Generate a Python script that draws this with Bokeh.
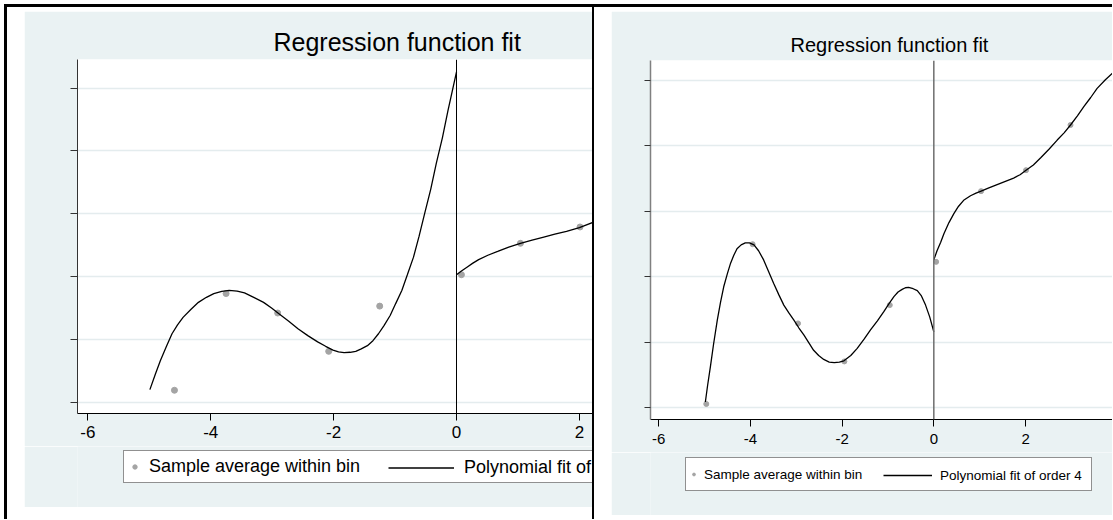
from bokeh.plotting import figure
from bokeh.models import Range1d, FixedTicker, Span, Spacer, Legend, LegendItem
from bokeh.layouts import row, column
from bokeh.embed import file_html
from bokeh.resources import INLINE

# ---------------- data ----------------
x_ticks = [-6, -4, -2, 0, 2, 4]
x_tick_labels = ["-6", "-4", "-2", "0", "2", "4"]
y_ticks = [0, 1, 2, 3, 4, 5]
title_text = "Regression function fit"
label_bins = "Sample average within bin"
label_fit = "Polynomial fit of order 4"

# left panel
left_bin_x = [-4.59, -3.75, -2.91, -2.08, -1.25, 0.08, 1.04, 2.01]
left_bin_y = [0.19, 1.73, 1.42, 0.81, 1.53, 2.03, 2.53, 2.79]
left_fit_lo_x = [-4.99, -4.90, -4.82, -4.72, -4.63, -4.54, -4.45, -4.32, -4.20, -4.07, -3.95, -3.82,
                 -3.70, -3.57, -3.45, -3.30, -3.14, -3.01, -2.89, -2.73, -2.58, -2.42, -2.26, -2.13,
                 -2.01, -1.92, -1.83, -1.73, -1.64, -1.55, -1.45, -1.36, -1.27, -1.18, -1.08, -0.99,
                 -0.89, -0.80, -0.70, -0.61, -0.52, -0.42, -0.33, -0.23, -0.14, -0.07, 0.0]
left_fit_lo_y = [0.20, 0.45, 0.66, 0.89, 1.09, 1.23, 1.35, 1.48, 1.59, 1.67, 1.73, 1.765,
                 1.78, 1.77, 1.74, 1.67, 1.59, 1.50, 1.41, 1.29, 1.17, 1.06, 0.96, 0.89,
                 0.83, 0.80, 0.79, 0.795, 0.81, 0.85, 0.90, 0.98, 1.09, 1.22, 1.38, 1.57,
                 1.78, 2.03, 2.31, 2.64, 3.00, 3.39, 3.80, 4.21, 4.64, 4.95, 5.26]
left_fit_hi_x = [0.0, 0.08, 0.17, 0.26, 0.36, 0.51, 0.67, 0.85, 1.04, 1.23, 1.42, 1.60, 1.79, 2.00,
                 2.21, 2.40]
left_fit_hi_y = [2.03, 2.09, 2.15, 2.21, 2.27, 2.34, 2.40, 2.47, 2.53, 2.58, 2.63, 2.675, 2.72, 2.78,
                 2.86, 2.93]

# right panel
right_bin_x = [-4.96, -3.95, -2.96, -1.95, -0.96, 0.05, 1.03, 2.01, 2.98]
right_bin_y = [0.06, 2.50, 1.29, 0.71, 1.57, 2.23, 3.31, 3.63, 4.32]
right_fit_lo_x = [-4.98, -4.93, -4.87, -4.80, -4.72, -4.65, -4.58, -4.50, -4.43, -4.36, -4.29, -4.20,
                  -4.11, -4.02, -3.92, -3.82, -3.71, -3.60, -3.49, -3.38, -3.27, -3.16, -3.05, -2.94,
                  -2.83, -2.72, -2.62, -2.51, -2.40, -2.28, -2.17, -2.06, -1.96, -1.81, -1.67, -1.52,
                  -1.38, -1.23, -1.09, -0.98, -0.87, -0.78, -0.69, -0.62, -0.55, -0.45, -0.36, -0.27,
                  -0.18, -0.09, 0.0]
right_fit_lo_y = [0.09, 0.35, 0.63, 0.98, 1.34, 1.61, 1.85, 2.05, 2.21, 2.33, 2.43, 2.49,
                  2.52, 2.52, 2.49, 2.40, 2.26, 2.08, 1.90, 1.73, 1.57, 1.45, 1.34, 1.22,
                  1.11, 0.99, 0.88, 0.80, 0.74, 0.70, 0.69, 0.70, 0.72, 0.80, 0.91, 1.05,
                  1.19, 1.33, 1.47, 1.59, 1.70, 1.77, 1.81, 1.835, 1.84, 1.82, 1.79, 1.71,
                  1.57, 1.39, 1.16]
right_fit_hi_x = [0.0, 0.07, 0.15, 0.22, 0.33, 0.44, 0.54, 0.65, 0.80, 0.92, 1.03, 1.20, 1.38, 1.56,
                  1.74, 1.88, 2.01, 2.17, 2.33, 2.51, 2.69, 2.84, 2.98, 3.13, 3.27, 3.42, 3.56, 3.74,
                  3.91, 4.00]
right_fit_hi_y = [2.26, 2.40, 2.53, 2.66, 2.83, 2.97, 3.08, 3.17, 3.24, 3.28, 3.31, 3.36, 3.41, 3.46,
                  3.51, 3.56, 3.63, 3.71, 3.82, 3.95, 4.09, 4.20, 4.32, 4.46, 4.60, 4.74, 4.88, 5.01,
                  5.12, 5.16]

# ---------------- style ----------------
BG = "#EAF2F3"
GRID = "#E4ECEE"
PT = "#A4A4A4"
FONT = "Liberation Sans"


def make_main(width, height, mb_left, mb_top, frame_h, xr, yr, title_size, title_offset,
              title_standoff, tick_size, tick_standoff, ytick_out, yaxis_color, yaxis_width,
              bx, by, lo_x, lo_y, hi_x, hi_y, dot_size, span_color, span_width):
    p = figure(width=width, height=height, x_range=Range1d(*xr), y_range=Range1d(*yr),
               output_backend="svg", toolbar_location=None, title=title_text,
               min_border_left=mb_left, min_border_right=0, min_border_top=mb_top,
               min_border_bottom=height - mb_top - frame_h,
               border_fill_color=BG, background_fill_color="white", outline_line_color=None)
    p.title.align = "left"
    p.title.offset = title_offset
    p.title.standoff = title_standoff
    p.title.text_font = FONT
    p.title.text_font_size = title_size
    p.title.text_font_style = "normal"
    p.title.text_color = "black"

    p.xaxis.ticker = FixedTicker(ticks=x_ticks)
    p.xaxis.major_label_overrides = dict(zip(x_ticks, x_tick_labels))
    p.xaxis.axis_line_color = "black"
    p.xaxis.major_tick_line_color = "black"
    p.xaxis.major_tick_out = 7
    p.xaxis.major_tick_in = 0
    p.xaxis.minor_tick_line_color = None
    p.xaxis.major_label_text_font = FONT
    p.xaxis.major_label_text_font_size = tick_size
    p.xaxis.major_label_standoff = tick_standoff
    p.xaxis.major_label_text_color = "black"

    p.yaxis.ticker = FixedTicker(ticks=y_ticks)
    p.yaxis.major_label_overrides = {t: "" for t in y_ticks}
    p.yaxis.axis_line_color = yaxis_color
    p.yaxis.axis_line_width = yaxis_width
    p.yaxis.major_tick_line_color = "#333333"
    p.yaxis.major_tick_out = ytick_out
    p.yaxis.major_tick_in = 0
    p.yaxis.minor_tick_line_color = None
    p.yaxis.major_label_standoff = 0

    p.xgrid.grid_line_color = None
    p.ygrid.grid_line_color = GRID
    p.ygrid.grid_line_width = 1.5

    p.add_layout(Span(location=0, dimension="height", line_color=span_color, line_width=span_width))

    p.scatter(bx, by, size=dot_size, fill_color=PT, line_color=PT)
    p.line(lo_x, lo_y, line_color="black", line_width=1.3)
    p.line(hi_x, hi_y, line_color="black", line_width=1.3)
    return p


def make_legend(width, height, bx, by, lo_x, lo_y, dot_size, font_size, legA, legB):
    lp = figure(width=width, height=height, x_range=Range1d(0, 1), y_range=Range1d(0, 1),
                output_backend="svg", toolbar_location=None, title=None, min_border=0,
                x_axis_location=None, y_axis_location=None,
                border_fill_color=BG, background_fill_color=BG, outline_line_color=None)
    lp.grid.visible = False
    r_pts = lp.scatter(bx, by, size=dot_size, fill_color=PT, line_color=PT, visible=False)
    r_fit = lp.line(lo_x, lo_y, line_color="black", line_width=1.3, visible=False)
    la = Legend(items=[LegendItem(label=label_bins, renderers=[r_pts])], **legA)
    lb = Legend(items=[LegendItem(label=label_fit, renderers=[r_fit])], **legB)
    for lg in (la, lb):
        lg.label_text_font = FONT
        lg.label_text_font_size = font_size
        lg.label_text_color = "black"
        lg.margin = 0
        lg.spacing = 0
        lp.add_layout(lg)
    return lp


left_main = make_main(
    width=568, height=435, mb_left=53, mb_top=48, frame_h=354,
    xr=(-6.168, 2.213), yr=(-0.180, 5.457), title_size="25px",
    title_offset=196, title_standoff=7, tick_size="17px", tick_standoff=5,
    ytick_out=7, yaxis_color="#333333", yaxis_width=1,
    bx=left_bin_x, by=left_bin_y, lo_x=left_fit_lo_x, lo_y=left_fit_lo_y,
    hi_x=left_fit_hi_x, hi_y=left_fit_hi_y, dot_size=6, span_color="black", span_width=1)

# legend frames are aligned with the main frames (left edge at x=77 / x=650)
left_leg = make_legend(
    width=568, height=61, bx=left_bin_x, by=left_bin_y, lo_x=left_fit_lo_x, lo_y=left_fit_lo_y,
    dot_size=6, font_size="18px",
    legA=dict(location=(46, 24), padding=5, glyph_width=11, glyph_height=19, label_height=19,
              label_width=480, label_standoff=9, border_line_color="#222222",
              background_fill_color="white", background_fill_alpha=1),
    legB=dict(location=(306, 24), padding=5, glyph_width=66, glyph_height=19, label_height=19,
              label_standoff=10, border_line_color="white", border_line_alpha=0,
              background_fill_alpha=0))

right_main = make_main(
    width=501, height=441, mb_left=39, mb_top=49, frame_h=359,
    xr=(-6.176, 3.895), yr=(-0.177, 5.305), title_size="20px",
    title_offset=140, title_standoff=10, tick_size="15px", tick_standoff=7,
    ytick_out=6, yaxis_color="#808080", yaxis_width=1.5,
    bx=right_bin_x, by=right_bin_y, lo_x=right_fit_lo_x, lo_y=right_fit_lo_y,
    hi_x=right_fit_hi_x, hi_y=right_fit_hi_y, dot_size=5, span_color="#6E6E6E", span_width=1.5)

right_leg = make_legend(
    width=501, height=63, bx=right_bin_x, by=right_bin_y, lo_x=right_fit_lo_x, lo_y=right_fit_lo_y,
    dot_size=5, font_size="13.5px",
    legA=dict(location=(35, 24), padding=4, glyph_width=7, glyph_height=24, label_height=24,
              label_width=383, label_standoff=7, border_line_color="#222222",
              background_fill_color="white", background_fill_alpha=1),
    legB=dict(location=(229, 24), padding=4, glyph_width=49, glyph_height=24, label_height=24,
              label_standoff=8, border_line_color="white", border_line_alpha=0,
              background_fill_alpha=0))

black = {"background-color": "black"}

left_panel = row(Spacer(width=17, height=512, margin=0),
                 column(Spacer(width=568, height=4, margin=0), left_main, left_leg,
                        Spacer(width=568, height=12, margin=0), spacing=0),
                 spacing=0)
right_panel = row(Spacer(width=17, height=512, margin=0),
                  column(Spacer(width=501, height=4, margin=0), right_main, right_leg,
                         Spacer(width=501, height=4, margin=0), spacing=0),
                  spacing=0)

body = column(Spacer(width=1108, height=3, styles=black, margin=0),
              row(Spacer(width=3, height=512, styles=black, margin=0), left_panel,
                  Spacer(width=2, height=512, styles=black, margin=0), right_panel, spacing=0),
              spacing=0)

layout = column(Spacer(width=1112, height=4, margin=0),
                row(Spacer(width=4, height=515, margin=0), body, spacing=0),
                spacing=0)

open("out.html", "w").write(file_html(layout, INLINE))
